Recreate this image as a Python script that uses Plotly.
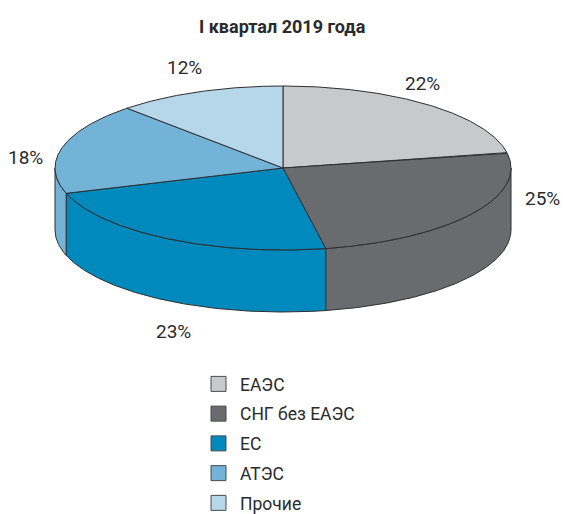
import numpy as np
import plotly.graph_objects as go

title = "I квартал 2019 года"
categories = ["ЕАЭС", "СНГ без ЕАЭС", "ЕС", "АТЭС", "Прочие"]
shares = [22, 25, 23, 18, 12]
colors = ["#c8c9cb", "#6a6b6f", "#0089bd", "#74b3d8", "#b6d6ea"]
label_x = [422, 542, 173, 25, 184]
label_y = [83, 198, 331, 157, 67]

CX, CY, RX, RY, DEPTH = 283, 168, 228, 82, 62
EDGE = "#2e2e30"
WINDOW_H = 514
BOTTOM_GAP = 7


def rim(a0, a1, dy=0):
    t = np.radians(np.linspace(a0, a1, max(int(abs(a1 - a0)) * 2 + 2, 3)))
    return CX + RX * np.sin(t), CY + dy - RY * np.cos(t)


fig = go.Figure()


def face(x, y, color):
    fig.add_trace(go.Scatter(x=list(x), y=list(y), mode="lines", fill="toself",
                             fillcolor=color, line=dict(color=EDGE, width=1),
                             showlegend=False, hoverinfo="skip"))


edges = 3.6 * np.concatenate([[0], np.cumsum(shares)])

# front wall, only the part of the rim facing the viewer (90..270 degrees)
for i, c in enumerate(colors):
    a0, a1 = max(edges[i], 90), min(edges[i + 1], 270)
    if a1 > a0:
        xt, yt = rim(a0, a1)
        xb, yb = rim(a1, a0, DEPTH)
        face(np.r_[xt, xb, xt[0]], np.r_[yt, yb, yt[0]], c)

# top faces
for i, c in enumerate(colors):
    xt, yt = rim(edges[i], edges[i + 1])
    face(np.r_[CX, xt, CX], np.r_[CY, yt, CY], c)

# legend entries
for name, c in zip(categories, colors):
    fig.add_trace(go.Scatter(x=[None], y=[None], mode="markers", name=name, legendgroup=name,
                             marker=dict(symbol="square", size=15, color=c,
                                         line=dict(color="#4a4a4d", width=1))))

for s, lx, ly in zip(shares, label_x, label_y):
    fig.add_annotation(x=lx, y=ly, text=f"{s}%", showarrow=False,
                       font=dict(family="Roboto", size=19, color="#2a2a2c"))

fig.add_annotation(x=282, y=26, text=f"<b>{title}</b>", showarrow=False,
                   font=dict(family="Roboto", size=18, color="#2a2a2c"))

fig.update_layout(
    width=563, height=WINDOW_H + BOTTOM_GAP, margin=dict(l=0, r=0, t=0, b=BOTTOM_GAP),
    paper_bgcolor="white", plot_bgcolor="white",
    xaxis=dict(range=[0, 563], visible=False, fixedrange=True),
    yaxis=dict(range=[WINDOW_H, 0], visible=False, fixedrange=True),
    legend=dict(x=197 / 563, y=-BOTTOM_GAP / WINDOW_H, xanchor="left", yanchor="bottom",
                itemwidth=33,
                tracegroupgap=4, font=dict(family="Roboto", size=17.5, color="#2a2a2c"),
                bgcolor="rgba(0,0,0,0)", itemclick=False, itemdoubleclick=False),
)
fig.write_html("out.html", config={"displayModeBar": False},
               post_script="document.body.style.margin='0';"
                           "document.documentElement.style.overflow='hidden';"
                           "document.documentElement.style.height='514px';"
                           "document.body.style.overflow='hidden';"
                           "document.body.style.height='514px';")
